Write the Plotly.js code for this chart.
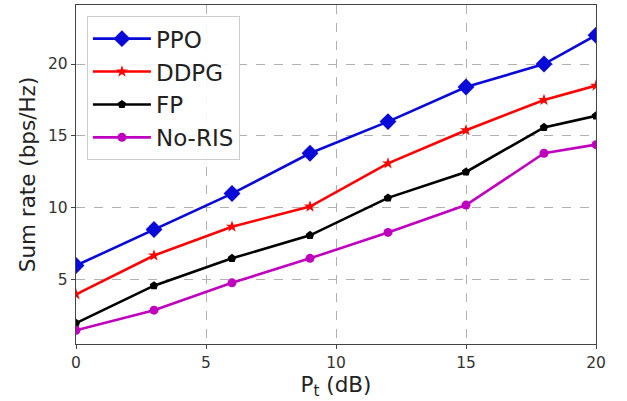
<!DOCTYPE html>
<html>
<head>
<meta charset="utf-8">
<script src="https://cdn.plot.ly/plotly-3.0.1.min.js"></script>
<style>html,body{margin:0;padding:0;background:#fff;}#chart{width:627px;height:401px;}</style>
</head>
<body>
<div id="chart"></div>
<script>
const pt = [0, 3, 6, 9, 12, 15, 18, 20];
const ppo = [6.0, 8.5, 11.0, 13.8, 16.0, 18.4, 20.0, 22.0];
const ddpg = [4.0, 6.7, 8.7, 10.1, 13.1, 15.4, 17.5, 18.5];
const fp = [2.0, 4.6, 6.5, 8.1, 10.7, 12.5, 15.6, 16.4];
const noris = [1.5, 2.9, 4.8, 6.5, 8.3, 10.2, 13.8, 14.4];
const names = ['PPO', 'DDPG', 'FP', 'No-RIS'];
const xTicks = [0, 5, 10, 15, 20];
const yTicks = [5, 10, 15, 20];

const styles = [
  {color: '#0a0ad8', symbol: 'diamond', size: 13},
  {color: '#ff0000', symbol: 'star', size: 9},
  {color: '#000000', symbol: 'pentagon', size: 9},
  {color: '#bf00bf', symbol: 'circle', size: 9}
];
const series = [ppo, ddpg, fp, noris];
const traces = series.map((ys, i) => ({
  x: pt, y: ys, name: names[i], type: 'scatter', mode: 'lines+markers',
  legendgroup: 'g' + i,
  line: {color: styles[i].color, width: 2.6},
  marker: {color: styles[i].color, symbol: styles[i].symbol, size: styles[i].size}
}));

const axisCommon = {
  showline: true, mirror: true, linecolor: '#444', linewidth: 1.2,
  ticks: 'outside', ticklen: 4, tickcolor: '#444',
  showgrid: true, gridcolor: '#b0b0b0', griddash: 'dash', gridwidth: 1,
  zeroline: false,
  tickfont: {family: 'DejaVu Sans', size: 15.5, color: '#333'}
};

const layout = {
  width: 627, height: 401,
  margin: {l: 76, r: 31, t: 5, b: 57},
  paper_bgcolor: '#fff', plot_bgcolor: '#fff',
  font: {family: 'DejaVu Sans'},
  xaxis: Object.assign({}, axisCommon, {
    range: [0, 20], tickvals: xTicks,
    title: {text: 'P<sub>t</sub> (dB)', font: {size: 21.5, color: '#222'}, standoff: 4}
  }),
  yaxis: Object.assign({}, axisCommon, {
    range: [0.55, 24.1], tickvals: yTicks,
    title: {text: 'Sum rate (bps/Hz)', font: {size: 21.5, color: '#222'}, standoff: 6}
  }),
  showlegend: true,
  legend: {
    x: 0.021, y: 0.967, xanchor: 'left', yanchor: 'top',
    traceorder: 'grouped',
    bgcolor: 'rgba(255,255,255,0.9)', bordercolor: '#ccc', borderwidth: 1,
    font: {family: 'DejaVu Sans', size: 23, color: '#222'},
    itemwidth: 58,
    tracegroupgap: 0
  }
};

Plotly.newPlot('chart', traces, layout, {displayModeBar: false, staticPlot: true});
</script>
</body>
</html>
